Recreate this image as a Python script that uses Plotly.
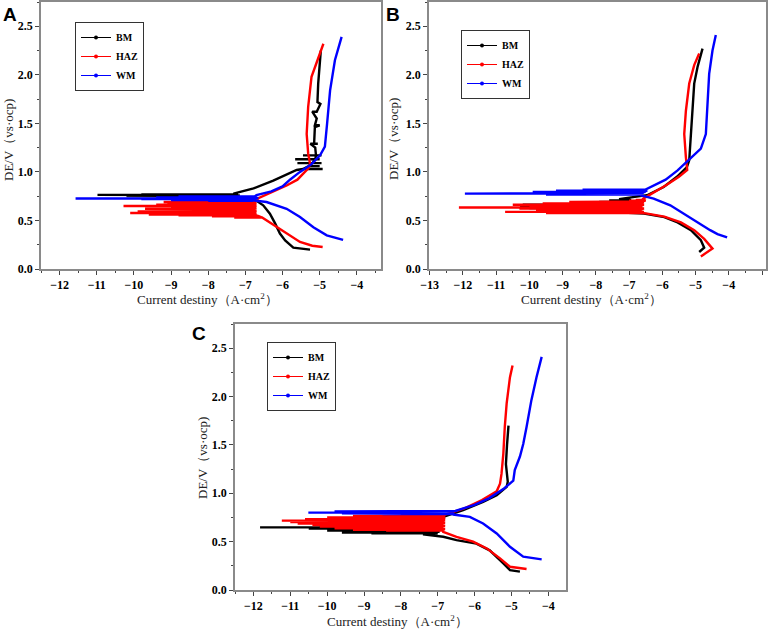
import plotly.graph_objects as go

W, H = 768, 631

# ---------------- panel A ----------------
a_bm_cath_x = [-5.26, -5.71, -5.93, -6.07, -6.20, -6.34, -6.52, -6.69, -7.14]
a_bm_cath_y = [0.20, 0.22, 0.295, 0.365, 0.47, 0.57, 0.656, 0.70, 0.735]
a_bm_spike_y = [0.745, 0.752, 0.758, 0.763, 0.767, 0.771]
a_bm_spike_x = [-9.3, -10.2, -8.6, -10.98, -9.8, -8.0]
a_bm_edge = [-7.2, -7.3, -7.15, -7.25, -7.2, -7.3]
a_bm_anod_x = [-7.32, -6.78, -6.25, -5.89, -5.62, -5.45, -4.92, -5.45, -5.3, -5.0, -5.3, -5.2, -5.6,
               -4.95, -5.2, -5.12, -5.66, -5.0, -5.12, -5.1, -5.45, -4.95, -5.1, -5.12, -5.25, -5.05,
               -5.15, -5.13, -5.0, -5.13, -5.08, -5.2, -5.08, -4.98, -5.06, -5.04, -5.01, -4.97]
a_bm_anod_y = [0.776, 0.83, 0.91, 0.975, 1.02, 1.03, 1.03, 1.03, 1.06, 1.06, 1.06, 1.09, 1.09,
               1.09, 1.09, 1.13, 1.13, 1.13, 1.13, 1.17, 1.17, 1.17, 1.17, 1.25, 1.29, 1.29,
               1.29, 1.46, 1.48, 1.48, 1.55, 1.62, 1.62, 1.70, 1.72, 1.91, 2.08, 2.25]

a_haz_cath_x = [-4.92, -5.2, -5.53, -5.89, -6.25, -6.52]
a_haz_cath_y = [0.227, 0.24, 0.278, 0.365, 0.45, 0.52]
a_haz_spike_y = [0.530, 0.542, 0.552, 0.560, 0.568, 0.577, 0.585, 0.592, 0.600, 0.607, 0.614,
                 0.621, 0.628, 0.635, 0.642, 0.649, 0.656, 0.663, 0.670, 0.677, 0.684, 0.690,
                 0.697, 0.704]
a_haz_spike_x = [-7.3, -7.9, -8.8, -9.6, -8.4, -10.1, -8.8, -9.9, -8.2, -9.3, -8.6,
                 -9.7, -8.3, -9.0, -8.0, -10.28, -8.5, -9.4, -7.9, -9.1, -8.4, -9.2,
                 -7.8, -8.6]
a_haz_edge = [-6.55, -6.62, -6.7, -6.75, -6.9, -6.7, -7.0, -6.8, -6.7, -6.95, -6.75,
              -6.85, -6.7, -6.9, -6.8, -6.7, -6.95, -6.75, -6.8, -6.7, -6.9, -6.75,
              -6.8, -6.7]
a_haz_anod_x = [-6.65, -6.3, -5.89, -5.6, -5.44, -5.3, -5.26, -5.31, -5.35, -5.31, -5.22, -5.08, -4.90]
a_haz_anod_y = [0.73, 0.79, 0.86, 0.92, 0.98, 1.04, 1.085, 1.19, 1.39, 1.67, 1.98, 2.12, 2.32]

a_wm_cath_x = [-4.37, -4.81, -5.17, -5.53, -5.89, -6.43, -6.85]
a_wm_cath_y = [0.30, 0.347, 0.43, 0.535, 0.62, 0.69, 0.71]
a_wm_spike_y = [0.703, 0.709, 0.715, 0.721, 0.726, 0.731, 0.736, 0.741, 0.746]
a_wm_spike_x = [-8.0, -9.0, -7.5, -9.8, -11.57, -8.6, -9.4, -7.8, -8.8]
a_wm_edge = [-6.8, -6.7, -6.9, -6.75, -6.8, -6.65, -6.8, -6.7, -6.75]
a_wm_anod_x = [-6.7, -6.3, -6.0, -5.8, -5.53, -5.22, -4.99, -4.86, -4.80, -4.72, -4.59, -4.45, -4.41]
a_wm_anod_y = [0.76, 0.80, 0.85, 0.92, 1.0, 1.08, 1.17, 1.26, 1.50, 1.84, 2.15, 2.36, 2.39]

# ---------------- panel B ----------------
b_bm_cath_x = [-4.89, -4.74, -4.84, -5.14, -5.54, -5.94, -6.55, -7.35]
b_bm_cath_y = [0.175, 0.22, 0.296, 0.40, 0.48, 0.535, 0.57, 0.585]
b_bm_spike_y = [0.590, 0.603, 0.615, 0.627, 0.638, 0.650, 0.662, 0.675, 0.690, 0.705, 0.718]
b_bm_spike_x = [-9.0, -9.6, -9.58, -10.0, -10.28, -9.3, -10.2, -8.5, -7.9, -7.6, -7.3]
b_bm_edge = [-7.0, -7.1, -6.95, -7.05, -7.0, -7.1, -6.9, -7.0, -7.05, -6.95, -7.0]
b_bm_anod_x = [-7.2, -6.46, -5.96, -5.56, -5.26, -5.19, -5.15, -5.12, -5.04, -4.94, -4.79]
b_bm_anod_y = [0.725, 0.76, 0.845, 0.95, 1.05, 1.12, 1.33, 1.57, 1.91, 2.08, 2.27]

b_haz_cath_x = [-4.84, -4.49, -4.74, -5.04, -5.44, -5.94, -6.45, -6.75]
b_haz_cath_y = [0.13, 0.21, 0.31, 0.40, 0.48, 0.54, 0.57, 0.585]
b_haz_spike_y = [0.575, 0.582, 0.588, 0.595, 0.602, 0.609, 0.616, 0.623, 0.630, 0.633, 0.640,
                 0.647, 0.654, 0.661, 0.668, 0.675, 0.682, 0.690, 0.697, 0.704, 0.712]
b_haz_spike_x = [-9.5, -8.3, -10.73, -9.0, -8.0, -9.8, -8.6, -10.3, -9.2, -12.12, -8.4,
                 -10.0, -9.0, -10.5, -8.2, -9.6, -8.0, -8.8, -7.5, -7.0, -6.8]
b_haz_edge = [-6.6, -6.75, -6.55, -6.7, -6.6, -6.8, -6.65, -6.55, -6.7, -6.6, -6.75,
              -6.6, -6.7, -6.55, -6.65, -6.6, -6.7, -6.55, -6.6, -6.5, -6.55]
b_haz_anod_x = [-6.6, -6.3, -5.9, -5.5, -5.25, -5.29, -5.34, -5.29, -5.19, -5.04, -4.89]
b_haz_anod_y = [0.72, 0.78, 0.86, 0.95, 1.02, 1.15, 1.39, 1.63, 1.91, 2.10, 2.22]

b_wm_cath_x = [-4.05, -4.34, -4.56, -4.96, -5.36, -5.76, -6.26, -6.67]
b_wm_cath_y = [0.325, 0.36, 0.40, 0.485, 0.57, 0.656, 0.725, 0.76]
b_wm_spike_y = [0.768, 0.776, 0.782, 0.788, 0.794, 0.800, 0.806, 0.812, 0.818]
b_wm_spike_x = [-9.5, -11.94, -10.3, -8.8, -9.9, -8.2, -9.2, -7.6, -8.4]
b_wm_edge = [-6.6, -6.7, -6.55, -6.65, -6.5, -6.6, -6.45, -6.55, -6.5]
b_wm_anod_x = [-6.5, -6.34, -5.9, -5.54, -5.14, -4.84, -4.69, -4.64, -4.59, -4.49, -4.39]
b_wm_anod_y = [0.82, 0.845, 0.92, 1.016, 1.15, 1.24, 1.39, 1.74, 2.01, 2.25, 2.41]

# ---------------- panel C ----------------
c_bm_cath_x = [-4.77, -5.04, -5.22, -5.59, -5.95, -6.49, -6.85, -7.4]
c_bm_cath_y = [0.19, 0.206, 0.275, 0.41, 0.48, 0.516, 0.55, 0.575]
c_bm_spike_y = [0.585, 0.595, 0.605, 0.615, 0.625, 0.635, 0.647, 0.657, 0.667, 0.680, 0.695]
c_bm_spike_x = [-8.8, -9.6, -8.2, -10.0, -9.0, -10.5, -11.82, -10.2, -9.4, -8.5, -7.8]
c_bm_edge = [-7.0, -7.1, -6.95, -7.05, -7.0, -7.1, -6.9, -7.0, -7.05, -6.95, -7.0]
c_bm_anod_x = [-7.0, -6.85, -6.31, -5.77, -5.40, -5.13, -5.10, -5.15, -5.12, -5.08]
c_bm_anod_y = [0.72, 0.756, 0.826, 0.91, 0.98, 1.066, 1.12, 1.30, 1.50, 1.70]

c_haz_cath_x = [-4.59, -5.04, -5.31, -5.67, -6.04, -6.49, -6.85]
c_haz_cath_y = [0.217, 0.24, 0.327, 0.43, 0.50, 0.55, 0.60]
c_haz_spike_y = [0.615, 0.623, 0.631, 0.639, 0.647, 0.655, 0.663, 0.671, 0.679, 0.687, 0.695,
                 0.703, 0.711, 0.717, 0.725, 0.733, 0.741, 0.749, 0.757, 0.765, 0.773]
c_haz_spike_x = [-8.4, -9.3, -8.0, -9.8, -8.8, -10.2, -9.0, -10.4, -9.6, -10.8, -9.2,
                 -11.0, -10.0, -11.23, -9.5, -10.6, -9.0, -10.0, -8.6, -9.3, -8.0]
c_haz_edge = [-6.85, -7.0, -6.8, -6.95, -6.85, -7.05, -6.8, -6.9, -6.85, -7.0, -6.8,
              -6.9, -6.85, -6.95, -6.8, -6.9, -6.85, -6.8, -6.9, -6.8, -6.85]
c_haz_anod_x = [-6.8, -6.3, -5.8, -5.4, -5.31, -5.27, -5.22, -5.18, -5.13, -5.04, -4.97]
c_haz_anod_y = [0.78, 0.84, 0.93, 1.02, 1.10, 1.20, 1.41, 1.69, 1.93, 2.20, 2.32]

c_wm_cath_x = [-4.18, -4.68, -5.04, -5.40, -5.77, -6.13, -6.58]
c_wm_cath_y = [0.317, 0.344, 0.447, 0.585, 0.688, 0.756, 0.78]
c_wm_spike_y = [0.785, 0.792, 0.800, 0.806, 0.812, 0.818]
c_wm_spike_x = [-8.5, -9.6, -10.51, -8.9, -9.8, -7.8]
c_wm_edge = [-6.6, -6.7, -6.55, -6.65, -6.6, -6.5]
c_wm_anod_x = [-6.5, -6.0, -5.6, -5.2, -4.95, -4.91, -4.77, -4.68, -4.59, -4.46, -4.32, -4.18]
c_wm_anod_y = [0.82, 0.88, 0.95, 1.05, 1.13, 1.24, 1.38, 1.51, 1.685, 1.96, 2.20, 2.41]

series_names = ["BM", "HAZ", "WM"]
series_colors = ["#000000", "#ff0000", "#0000ff"]


def build_curve(cath_x, cath_y, spike_y, spike_x, edge, anod_x, anod_y):
    '''cathodic branch, then the noisy spikes around Ecorr, then the anodic branch'''
    xs = list(cath_x)
    ys = list(cath_y)
    for sy, sx, ex in zip(spike_y, spike_x, edge):
        xs += [ex, sx, ex]
        ys += [sy, sy, sy]
    xs += list(anod_x)
    ys += list(anod_y)
    return xs, ys


panels = [
    [build_curve(a_bm_cath_x, a_bm_cath_y, a_bm_spike_y, a_bm_spike_x, a_bm_edge, a_bm_anod_x, a_bm_anod_y),
     build_curve(a_haz_cath_x, a_haz_cath_y, a_haz_spike_y, a_haz_spike_x, a_haz_edge, a_haz_anod_x, a_haz_anod_y),
     build_curve(a_wm_cath_x, a_wm_cath_y, a_wm_spike_y, a_wm_spike_x, a_wm_edge, a_wm_anod_x, a_wm_anod_y)],
    [build_curve(b_bm_cath_x, b_bm_cath_y, b_bm_spike_y, b_bm_spike_x, b_bm_edge, b_bm_anod_x, b_bm_anod_y),
     build_curve(b_haz_cath_x, b_haz_cath_y, b_haz_spike_y, b_haz_spike_x, b_haz_edge, b_haz_anod_x, b_haz_anod_y),
     build_curve(b_wm_cath_x, b_wm_cath_y, b_wm_spike_y, b_wm_spike_x, b_wm_edge, b_wm_anod_x, b_wm_anod_y)],
    [build_curve(c_bm_cath_x, c_bm_cath_y, c_bm_spike_y, c_bm_spike_x, c_bm_edge, c_bm_anod_x, c_bm_anod_y),
     build_curve(c_haz_cath_x, c_haz_cath_y, c_haz_spike_y, c_haz_spike_x, c_haz_edge, c_haz_anod_x, c_haz_anod_y),
     build_curve(c_wm_cath_x, c_wm_cath_y, c_wm_spike_y, c_wm_spike_x, c_wm_edge, c_wm_anod_x, c_wm_anod_y)],
]

# pixel boxes of the three plot frames (left, top, right, bottom)
boxes = [(41, 2, 381, 269), (429, 2, 766, 269), (235, 324, 566, 590)]
x_ranges = [[-12.5, -3.35], [-13.02, -2.88], [-12.5, -3.52]]
letters = ["A", "B", "C"]
letter_pos = [(10, 14), (393, 14), (199, 333)]
xtitle_pos = [(207, 299), (591, 299), (397, 621)]
ytitle_pos = [(8, 140), (394, 139), (202, 458)]
legend_pos = [(75, 22), (461, 30), (267, 342)]

fig = go.Figure()
legend_ids = ["legend", "legend2", "legend3"]

for p, curves in enumerate(panels):
    xa = "x" if p == 0 else "x%d" % (p + 1)
    ya = "y" if p == 0 else "y%d" % (p + 1)
    for s, (xs, ys) in enumerate(curves):
        fig.add_trace(go.Scatter(
            x=xs, y=ys,
            mode="lines",
            line=dict(color=series_colors[s], width=2.4),
            name=series_names[s],
            showlegend=False,
            xaxis=xa, yaxis=ya,
        ))
    # legend entries: thin line with a small dot, as in the original
    for s in range(3):
        fig.add_trace(go.Scatter(
            x=[None], y=[None],
            mode="lines+markers",
            line=dict(color=series_colors[s], width=1),
            marker=dict(color=series_colors[s], size=4),
            name="<b>%s</b>" % series_names[s],
            legend=legend_ids[p],
            xaxis=xa, yaxis=ya,
        ))

tick_font = dict(family="Liberation Serif", size=12, color="black", weight="bold")
ax_common = dict(showline=True, mirror=True, linecolor="#8a8a8a", linewidth=1.5,
                 ticks="outside", ticklen=4, tickwidth=1, tickcolor="#444",
                 showgrid=False, zeroline=False, tickfont=tick_font, automargin=False)

layout = dict(width=W, height=H, margin=dict(l=0, r=0, t=0, b=0),
              plot_bgcolor="white", paper_bgcolor="white", showlegend=True)
annotations = []

for p in range(3):
    l, t, r, b = boxes[p]
    xkey = "xaxis" if p == 0 else "xaxis%d" % (p + 1)
    ykey = "yaxis" if p == 0 else "yaxis%d" % (p + 1)
    yanchor = "y" if p == 0 else "y%d" % (p + 1)
    xanchor = "x" if p == 0 else "x%d" % (p + 1)
    layout[xkey] = dict(ax_common, domain=[l / W, r / W], range=x_ranges[p], dtick=1,
                        tickformat="d", anchor=yanchor,
                        minor=dict(ticks="outside", ticklen=2, dtick=0.5, tickcolor="#444"))
    layout[ykey] = dict(ax_common, domain=[1 - b / H, 1 - t / H], range=[0, 2.75], dtick=0.5,
                        tickformat=".1f", anchor=xanchor,
                        minor=dict(ticks="outside", ticklen=2, dtick=0.25, tickcolor="#444"))
    lx, ly = legend_pos[p]
    layout[legend_ids[p]] = dict(x=lx / W, y=1 - ly / H, xanchor="left", yanchor="top",
                                 bgcolor="white", bordercolor="#333", borderwidth=1,
                                 font=dict(family="Liberation Serif", size=10, color="black"),
                                 itemwidth=30, tracegroupgap=0)
    px_, py_ = letter_pos[p]
    annotations.append(dict(text="<b>%s</b>" % letters[p], x=px_ / W, y=1 - py_ / H,
                            xanchor="center", yanchor="middle",
                            xref="paper", yref="paper", showarrow=False,
                            font=dict(family="Liberation Sans", size=19, color="black")))
    tx, ty = xtitle_pos[p]
    annotations.append(dict(text="Current destiny（A·cm<sup>2</sup>）", x=tx / W, y=1 - ty / H,
                            xanchor="center", yanchor="middle",
                            xref="paper", yref="paper", showarrow=False,
                            font=dict(family="Liberation Serif", size=13, color="#222")))
    vx, vy = ytitle_pos[p]
    annotations.append(dict(text="DE/V（vs·ocp)", x=vx / W, y=1 - vy / H, textangle=-90,
                            xanchor="center", yanchor="middle",
                            xref="paper", yref="paper", showarrow=False,
                            font=dict(family="Liberation Serif", size=13, color="#222")))

layout["annotations"] = annotations
fig.update_layout(**layout)

# the page body has a default 8px margin; drop it so the figure sits at 0,0
fig.write_html("out.html", config={"displayModeBar": False},
               post_script="document.body.style.margin='0px';")
